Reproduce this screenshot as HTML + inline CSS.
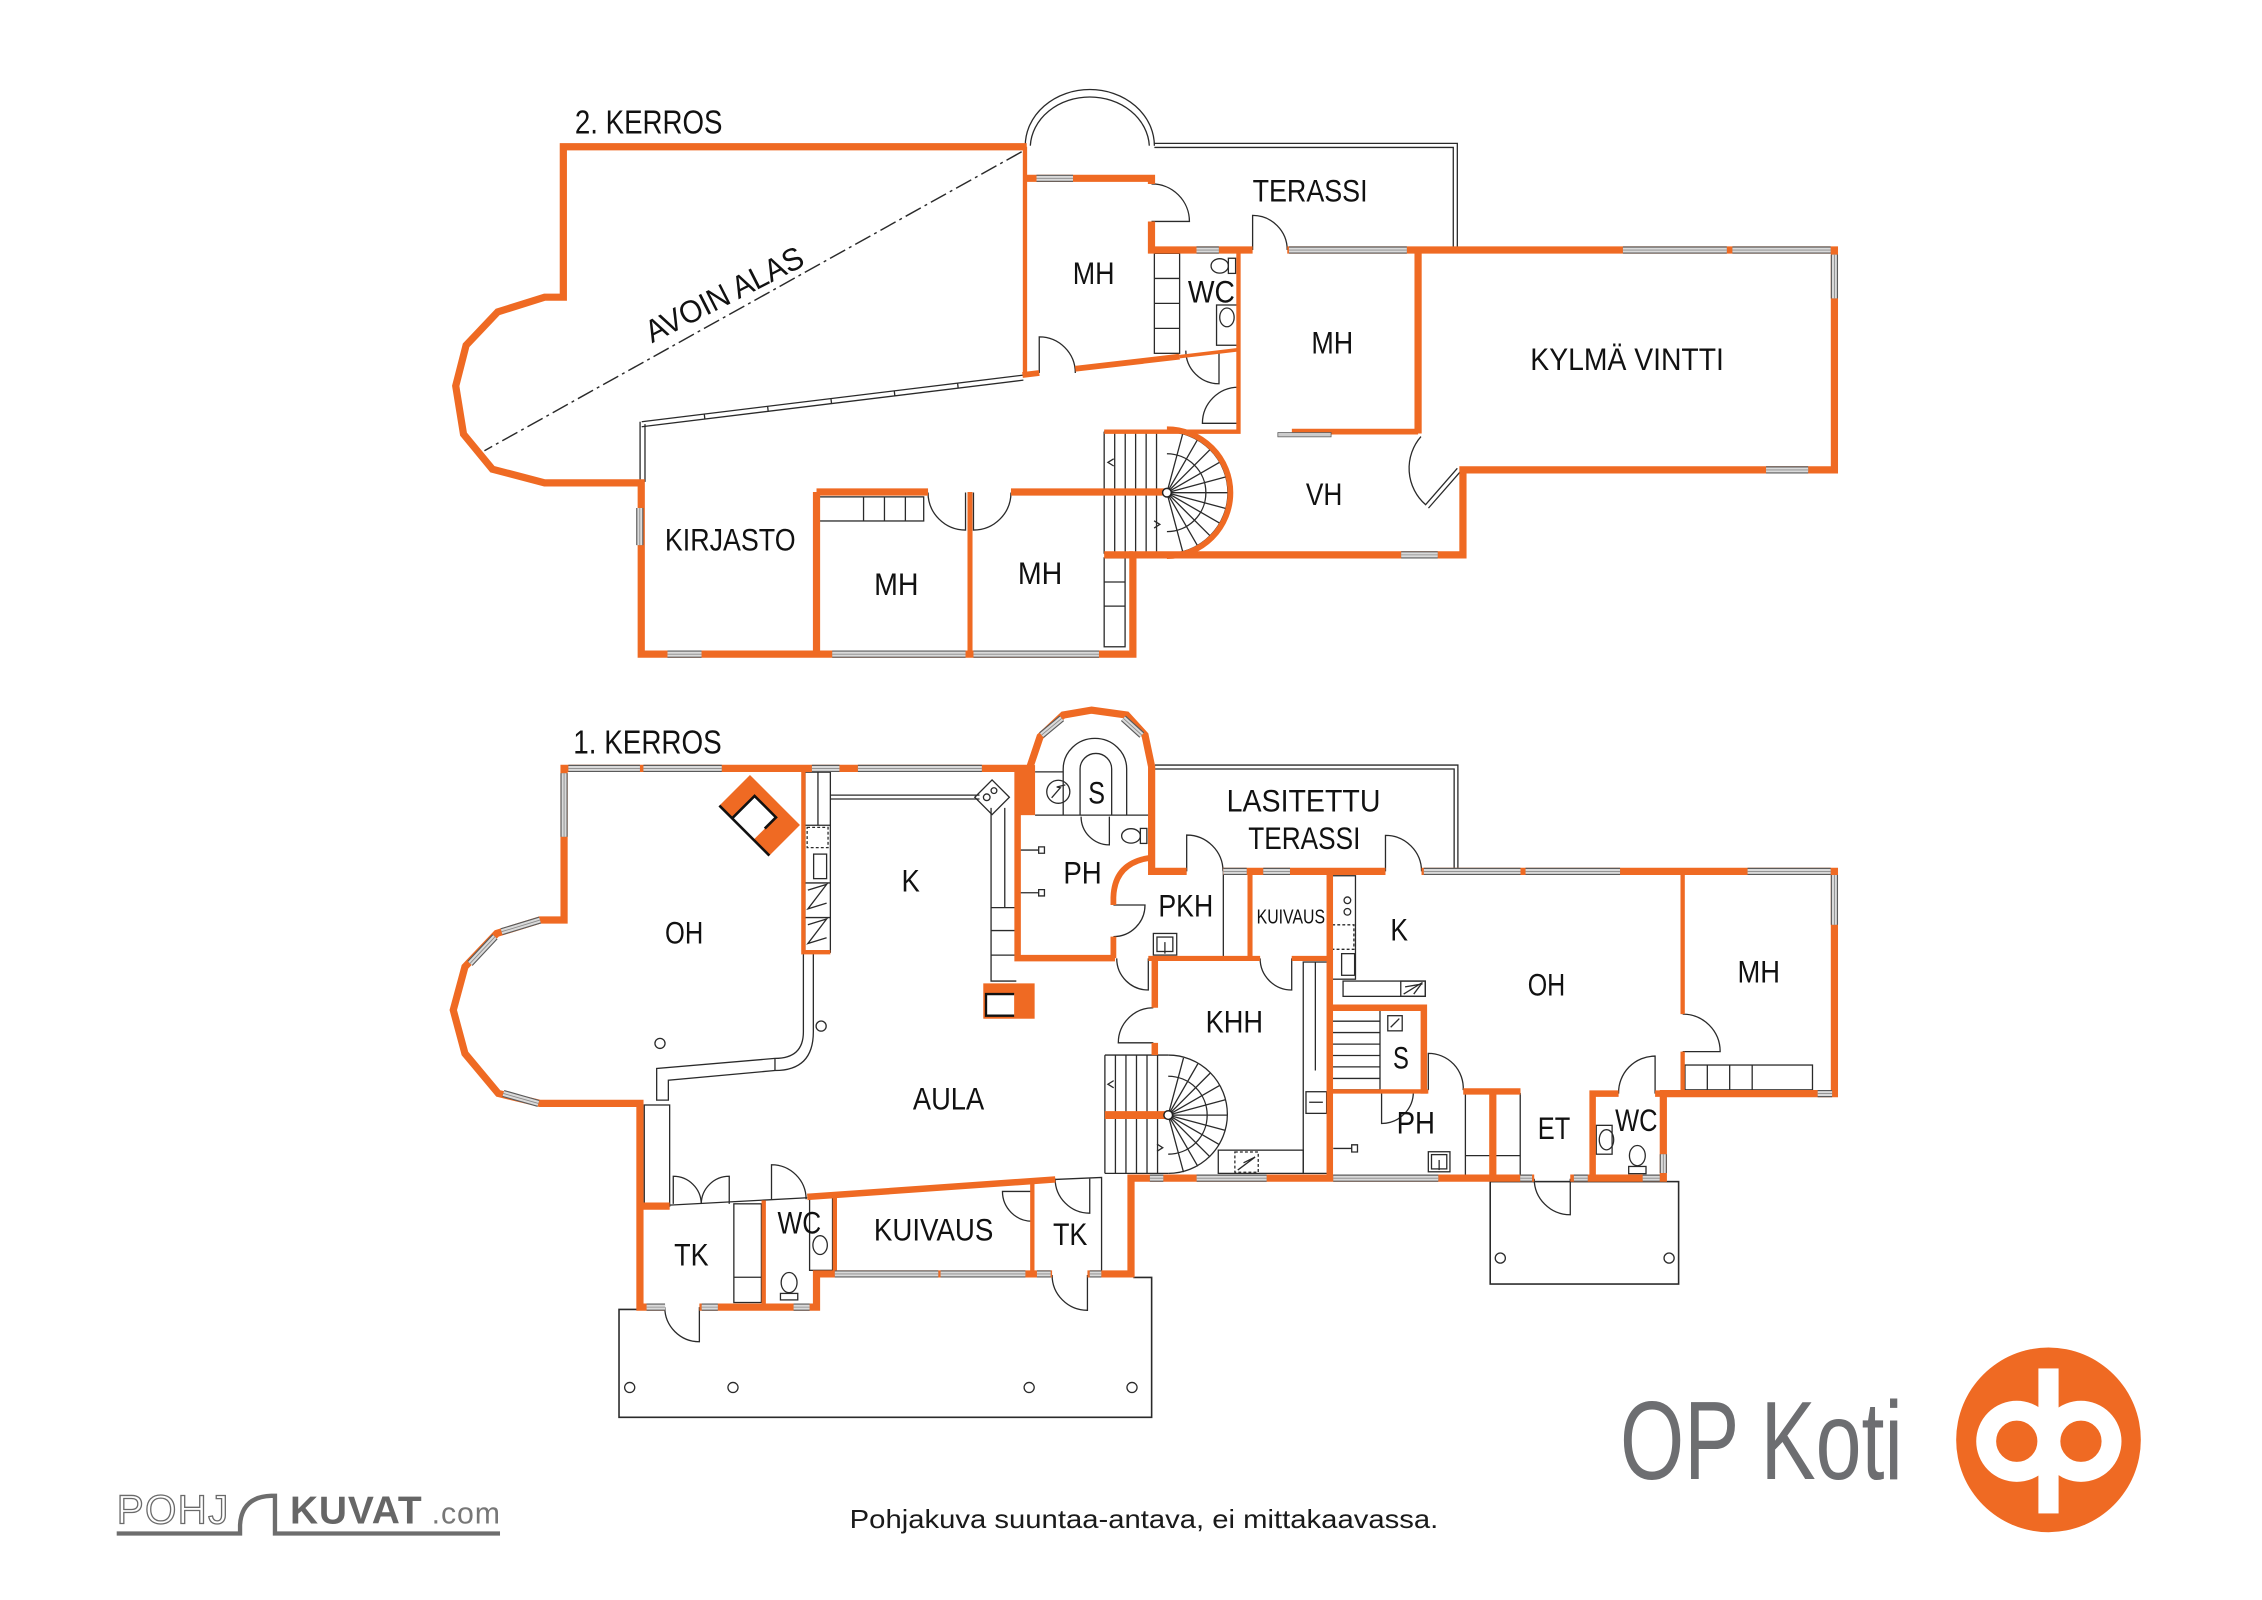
<!DOCTYPE html>
<html><head><meta charset="utf-8">
<style>html,body{margin:0;padding:0;background:#fff}svg{display:block}</style>
</head><body>
<svg xmlns="http://www.w3.org/2000/svg" xmlns:xlink="http://www.w3.org/1999/xlink" width="2262" height="1600" viewBox="0 0 1568 1109" preserveAspectRatio="none" font-family="'Liberation Sans', sans-serif">
<defs>
<path id="wins" fill="none" d="
M718.5,123.6 L743.8,123.6
M829.4,173.3 L844.9,173.3
M893.5,173.3 L975.2,173.3
M1125,173.3 L1197,173.3 M1200.9,173.3 L1269,173.3
M1271.6,176.5 L1271.6,206.8
M1224.2,325.7 L1253.4,325.7
M971.3,384.6 L996.6,384.6
M443.5,352.1 L443.5,377.8
M462.7,453.4 L486.3,453.4 M576.9,453.4 L669.3,453.4 M674.8,453.4 L761.8,453.4
M394,532.6 L443.6,532.6 M446,532.6 L500.3,532.6 M562.8,532.6 L581.9,532.6 M594.7,532.6 L680.6,532.6
M391,536 L391,580
M374.3,637.7 L347.7,645.8
M343.1,649.3 L325.8,667.8
M348.9,757.9 L373.2,764.8
M448.2,906 L461,906 M486.4,906 L497.6,906 M550.1,906 L561.2,906
M578.7,883 L650.4,883 M652,883 L710.8,883
M718.8,883 L728.3,883 M755.4,883 L763.4,883
M722,509.5 L736,497.9
M778.7,497.9 L791.5,509.5
M848,604 L864.2,604 M875.7,604 L894.2,604 M987,604 L1054,604 M1057.5,604 L1123,604 M1211.4,604 L1269,604
M1271.6,606.5 L1271.6,641
M1260,758 L1270,758
M797.1,816.6 L806.4,816.6 M829.5,816.6 L878,816.6 M924.2,816.6 L997,816.6 M1053.8,816.6 L1062,816.6 M1091,816.6 L1100.6,816.6 M1138.7,816.6 L1150.5,816.6
M1153,800 L1153,813"/>
</defs>
<rect x="0" y="0" width="1568" height="1109" fill="#fff"/>

<!-- ============ THIN BLACK LINEWORK ============ -->
<g fill="none" stroke="#2a2a2a" stroke-width="0.9">
<!-- upper dome & terrace -->
<path d="M710.7,101 A44.75,39 0 0 1 800.2,101"/>
<path d="M714.2,101 A41.3,35.5 0 0 1 796.7,101"/>
<path d="M800.2,99.4 L1010.2,99.4 L1010.2,173"/>
<path d="M800.2,102.2 L1007.4,102.2 L1007.4,173"/>
<!-- slanted thin window wall -->
<path d="M444.8,292.3 L709.4,260 M444.8,295.8 L709.4,263.5"/>
<path d="M443.7,292.3 L443.7,334 M447.1,294 L447.1,334"/>
<path d="M488.2,287 L488.6,290.5 M532.1,281.6 L532.5,285.1 M576,276.2 L576.4,279.7 M619.9,270.9 L620.3,274.4 M663.8,265.6 L664.2,269.1"/>
<!-- dash-dot -->
<path d="M708.2,105.2 L335.8,312.4" stroke-dasharray="12,3,2,3" stroke-width="1"/>
<!-- upper MH closet -->
<rect x="800.2" y="175.6" width="17.5" height="69.3"/>
<path d="M800.2,193 L817.7,193 M800.2,210.3 L817.7,210.3 M800.2,227.6 L817.7,227.6"/>
<!-- WC upper fixtures -->
<ellipse cx="845.5" cy="184.3" rx="6" ry="5"/>
<rect x="851.5" y="179" width="5" height="10.5"/>
<rect x="843.3" y="211.4" width="14.5" height="27.9"/>
<ellipse cx="850.5" cy="220" rx="5" ry="6.5"/>
<!-- upper stairs -->
<path d="M765.4,299.2 L808.9,299.2 M765.4,383.8 L808.9,383.8 M765.4,299.2 L765.4,383.8"/>
<path d="M772.7,299.2 L772.7,383.8 M780,299.2 L780,383.8 M787.2,299.2 L787.2,383.8 M794.5,299.2 L794.5,383.8 M801.7,299.2 L801.7,383.8"/>
<path d="M808.9,299.2 A42.3,42.3 0 0 1 808.9,383.8"/>
<path d="M808.9,314.5 A27,27 0 0 1 808.9,368.5"/>
<path d="M808.9,341.5 L819.85,300.64 M808.9,341.5 L830.05,304.87 M808.9,341.5 L838.81,311.59 M808.9,341.5 L845.53,320.35 M808.9,341.5 L849.76,330.55 M808.9,341.5 L851.2,341.5 M808.9,341.5 L849.76,352.45 M808.9,341.5 L845.53,362.65 M808.9,341.5 L838.81,371.41 M808.9,341.5 L830.05,378.13 M808.9,341.5 L819.85,382.36"/>
<path d="M772,318 L768,320.5 L772,323 M800,361 L804,363.5 L800,366"/>
<!-- kirjasto closet -->
<rect x="567.8" y="344.4" width="72.5" height="16.7"/>
<path d="M598.6,344.4 L598.6,361.1 M613.1,344.4 L613.1,361.1 M627.6,344.4 L627.6,361.1"/>
<!-- right MH closet -->
<rect x="765.4" y="386.7" width="14.5" height="61.6"/>
<path d="M765.4,403.4 L779.9,403.4 M765.4,420.1 L779.9,420.1"/>
<!-- upper doors -->
<path d="M798.2,153.5 L824.5,153.5 A26,26 0 0 0 798.2,127.5"/>
<path d="M868.3,173.3 L868.3,149.3 A24,24 0 0 1 892.3,173.3"/>
<path d="M720.4,258.5 L720.4,233.5 A25,25 0 0 1 745.4,258.5"/>
<path d="M845,243 L845,266 A23,23 0 0 1 822,243"/>
<path d="M858.5,293.4 L833.5,293.4 A25,25 0 0 1 858.5,268.4"/>
<path d="M669.3,341.4 L669.3,367.4 A26,26 0 0 1 643.3,341.4"/>
<path d="M674.8,341.4 L674.8,367.4 A26,26 0 0 0 700.8,341.4"/>
<path d="M1010.2,324.6 L988.2,349.8 A33.5,33.5 0 0 1 985,302.6"/>
<path d="M1012.2,327 L990.2,352.2"/>

<!-- lower terraces -->
<path d="M800.6,530.3 L1010.6,530.3 L1010.6,604"/>
<path d="M800.6,533 L1008,533 L1008,604"/>
<path d="M444,907.6 L429.1,907.6 L429.1,982.4 L798.3,982.4 L798.3,885.4 L785.6,885.4" stroke-width="1.1"/>
<rect x="1033" y="819" width="130.6" height="71" stroke-width="1.1"/>
<circle cx="436.5" cy="961.7" r="3.5"/><circle cx="508.1" cy="961.7" r="3.5"/><circle cx="713.4" cy="961.7" r="3.5"/><circle cx="784.7" cy="961.7" r="3.5"/>
<circle cx="1040" cy="872" r="3.5"/><circle cx="1157" cy="872" r="3.5"/>
<!-- OH/AULA divider -->
<path d="M556.9,660 L556.9,715.2 Q556.9,733.6 537.2,733.6 L455.2,740.6 L455.2,762.5 L463.3,762.5 L463.3,748.7 L537.2,742 Q563.8,742 563.8,715.2 L563.8,660"/>
<path d="M537.2,733.6 L537.2,742"/>
<circle cx="457.5" cy="723.2" r="3.5"/><circle cx="569.2" cy="711.2" r="3.5"/>
<!-- left TK stuff -->
<rect x="446.6" y="765.9" width="17.6" height="70.1"/>
<path d="M464.2,835.3 L559.6,830.2"/>
<path d="M731.5,817.5 L763.6,816.1 L763.6,883"/>
<rect x="508.7" y="834.4" width="19.1" height="68.4"/>
<path d="M508.7,885.3 L527.8,885.3"/>
<rect x="561.2" y="829.6" width="15.9" height="50.9"/>
<ellipse cx="568.5" cy="863" rx="5" ry="6.5"/>
<ellipse cx="547" cy="889" rx="5.5" ry="7"/>
<rect x="541" y="896.5" width="12" height="4.5"/>
<!-- sauna -->
<path d="M717.5,565 L797.2,565 M717.5,535 L737,535"/>
<path d="M737,565 L737,533 A22,21.2 0 0 1 781,533 L781,565"/>
<path d="M748.7,565 L748.7,533 A10.95,10.8 0 0 1 770.6,533 L770.6,565"/>
<circle cx="733.6" cy="548.8" r="8"/>
<path d="M729,553 L735,546 L732.5,545.5 L738.5,544"/>
<ellipse cx="784" cy="579.4" rx="6.5" ry="5"/>
<rect x="790.5" y="574.2" width="4.5" height="10.4"/>
<path d="M707,589.2 L720,589.2 M720,587 L724,587 L724,591.4 L720,591.4 Z M707,618.8 L720,618.8 M720,616.6 L724,616.6 L724,621 L720,621 Z"/>
<!-- kitchen left strip -->
<rect x="558" y="535.2" width="17.6" height="124.8"/>
<path d="M567,535.2 L567,572 M558,572 L575.6,572 M558,612 L575.6,612 M558,636 L575.6,636"/>
<rect x="559.5" y="573.5" width="14.5" height="14" stroke-dasharray="2,1.5"/>
<rect x="564" y="592" width="9" height="17"/>
<path d="M560,617 L573,613 L560,630 L573,626 M560,641 L573,637 L560,654 L573,650"/>
<!-- K top double line + stove + right strip -->
<path d="M575.6,551.1 L679,551.1 M575.6,553.8 L679,553.8"/>
<polygon points="687.7,540.6 699.7,552.6 687.7,564.6 675.7,552.6"/>
<circle cx="684" cy="552.6" r="2.3"/><circle cx="689" cy="548" r="2"/>
<path d="M687,560 L687,680 L704.5,680 M696.5,560 L696.5,629 M687,629.1 L704.5,629.1 M687,645 L704.5,645 M687,662 L704.5,662"/>
<!-- PKH / kuivaus -->
<path d="M848,604 L848,664.3"/>
<rect x="799.5" y="647" width="16.2" height="15"/>
<rect x="802" y="649.5" width="11" height="10"/>
<path d="M807.5,661 L807.5,653"/>
<!-- K right counters -->
<rect x="922.3" y="607" width="17.3" height="71.7"/>
<circle cx="934" cy="624" r="2.3"/><circle cx="934" cy="632" r="2.3"/>
<rect x="923.5" y="641" width="15" height="17" stroke-dasharray="2,1.5"/>
<rect x="930" y="661" width="9" height="15"/>
<rect x="931" y="680" width="57" height="10.6"/>
<rect x="971" y="680" width="17" height="10.6"/>
<path d="M973,689 L986,681 L980,689 M974,684 L986,682"/>
<!-- stairs to basement + S -->
<rect x="922.3" y="699.9" width="34.3" height="55.5"/>
<path d="M922.3,707.8 L956.6,707.8 M922.3,715.7 L956.6,715.7 M922.3,723.7 L956.6,723.7 M922.3,731.6 L956.6,731.6 M922.3,739.5 L956.6,739.5 M922.3,747.5 L956.6,747.5"/>
<rect x="962" y="704" width="10" height="10.5"/>
<path d="M964,712 L970,706"/>
<!-- KHH -->
<rect x="903.4" y="666.8" width="17.4" height="146.5"/>
<path d="M911.8,666.8 L911.8,742"/>
<rect x="905.3" y="756.7" width="14.3" height="15"/>
<path d="M907.5,764 L917,764"/>
<rect x="844.5" y="797.2" width="58.9" height="16.1"/>
<rect x="856" y="798.5" width="16.2" height="14" stroke-dasharray="2,1.5"/>
<path d="M858,811 L870,802 L862,806"/>
<!-- lower spiral stairs -->
<path d="M765.9,731.3 L809.8,731.3 M765.9,813.3 L809.8,813.3 M765.9,731.3 L765.9,813.3"/>
<path d="M773.2,731.3 L773.2,813.3 M780.5,731.3 L780.5,813.3 M787.8,731.3 L787.8,813.3 M795.1,731.3 L795.1,813.3 M802.4,731.3 L802.4,813.3"/>
<path d="M809.8,731.3 A41,41 0 0 1 809.8,813.3"/>
<path d="M809.8,746 A27,27 0 0 1 809.8,800"/>
<path d="M809.8,772.9 L820.4,733.3 M809.8,772.9 L830.3,737.4 M809.8,772.9 L838.8,743.9 M809.8,772.9 L845.3,752.4 M809.8,772.9 L849.4,762.3 M809.8,772.9 L850.8,772.9 M809.8,772.9 L849.4,783.5 M809.8,772.9 L845.3,793.4 M809.8,772.9 L838.8,801.9 M809.8,772.9 L830.3,808.4 M809.8,772.9 L820.4,812.5"/>
<path d="M772,749 L768,751.5 L772,754 M802,793 L806,795.5 L802,798"/>
<!-- PH lower / ET / WC -->
<rect x="1015.8" y="758" width="17.2" height="58.6"/>
<path d="M1015.8,801 L1033,801"/>
<rect x="990.1" y="798.3" width="15" height="13.9"/>
<rect x="992.3" y="800.3" width="10.6" height="9.9"/>
<path d="M997.6,811 L997.6,804"/>
<path d="M924.2,796 L937,796 M937,793.5 L941,793.5 L941,798.5 L937,798.5 Z"/>
<rect x="1036.5" y="758" width="17.3" height="58.6"/>
<path d="M1036.5,801 L1053.8,801"/>
<ellipse cx="1113.6" cy="790" rx="5" ry="7"/>
<rect x="1106.5" y="780" width="11" height="20"/>
<ellipse cx="1135" cy="801" rx="5.5" ry="7"/>
<rect x="1129" y="808.5" width="12" height="5"/>
<!-- lower MH wardrobe -->
<rect x="1168" y="738.2" width="88.4" height="17.2"/>
<path d="M1183.5,738.2 L1183.5,755.4 M1199,738.2 L1199,755.4 M1214.6,738.2 L1214.6,755.4"/>
<!-- lower doors -->
<path d="M466.7,834.4 L466.7,815.3 A19.4,19.4 0 0 1 486.1,834.4"/>
<path d="M505.5,834.4 L505.5,815.3 A19.4,19.4 0 0 0 486.1,834.4"/>
<path d="M534.8,831.2 L534.8,807.3 A24,24 0 0 1 558.8,831.2"/>
<path d="M715.6,825.8 L694.9,825.8 A20.7,20.7 0 0 0 715.6,846.5"/>
<path d="M755.4,816.9 L755.4,840.9 A24,24 0 0 1 731.4,816.9"/>
<path d="M753.8,883.7 L753.8,908.2 A24.5,24.5 0 0 1 729.3,883.7"/>
<path d="M484.8,906 L484.8,930 A24,24 0 0 1 460.8,906"/>
<path d="M769,566 L769,585.6 A19.6,19.6 0 0 1 749.4,566"/>
<path d="M771.8,627.3 L793.7,627.3 A21.9,21.9 0 0 1 771.8,649.2"/>
<path d="M796,664.3 L796,686.2 A21.9,21.9 0 0 1 774.1,664.3"/>
<path d="M799.5,722.8 L775.2,722.8 A24.3,24.3 0 0 1 799.5,698.5"/>
<path d="M822.6,604 L822.6,578.8 A25.2,25.2 0 0 1 847.8,604"/>
<path d="M960.4,604 L960.4,579 A25,25 0 0 1 985.4,604"/>
<path d="M895.4,664.3 L895.4,686.2 A21.9,21.9 0 0 1 873.5,664.3"/>
<path d="M1166.4,728.9 L1192.4,728.9 A26,26 0 0 0 1166.4,702.9"/>
<path d="M1147.3,758 L1147.3,732 A25.3,25.3 0 0 0 1122,758"/>
<path d="M990.1,755.6 L990.1,730.1 A24.2,24.2 0 0 1 1014.3,755.6"/>
<path d="M1088.5,817 L1088.5,842 A25,25 0 0 1 1063.5,817"/>
<path d="M957.7,755.6 L957.7,778.7 A22,22 0 0 0 979.7,755.6"/>
</g>

<!-- ============ ORANGE WALLS ============ -->
<g fill="none" stroke="#ef6a23" stroke-linejoin="miter">
<!-- upper thick -->
<path stroke-width="5" d="M711.7,101.7 L390.5,101.7 L390.5,206 L377.5,206 L345,216.2 L323.1,239.3 L315.9,267.5 L321.3,300.9 L341.3,325.2 L377.5,334.7 L444.5,334.7 L444.5,453.4 L785.3,453.4 L785.3,384.6 L1014.1,384.6 L1014.1,325.7 L1271.6,325.7 L1271.6,173.3 L892.3,173.3"/>
<path stroke-width="5" d="M765.4,384.6 L785.3,384.6"/>
<path stroke-width="5" d="M710.5,123.6 L798.2,123.6 L798.2,127.5 M798.2,153.5 L798.2,173.3 L868.3,173.3"/>
<path stroke-width="5" d="M983,173.3 L983,300.5"/>
<path stroke-width="4" d="M895.5,299.2 L983,299.2"/>
<path stroke-width="5" d="M566,341 L643.3,341 M700.8,341 L808.9,341 M566,341 L566,453.4"/>
<path stroke-width="4" d="M745.4,255.6 L817.7,247.2 M708.8,259.9 L720.4,258.5"/>
<path stroke-width="4" d="M808.9,297.5 A44,44 0 0 1 808.9,385.5"/>
<path stroke-width="3" d="M710.5,101.7 L710.5,259.9"/>
<path stroke-width="3" d="M858.5,173.3 L858.5,299.2 L765.4,299.2"/>
<path stroke-width="2.5" d="M817.7,247.2 L858.5,242.4"/>
<path stroke-width="3.5" d="M672.4,341 L672.4,453.4"/>
<!-- lower thick outer -->
<path stroke-width="5" d="M712.4,532.6 L391,532.6 L391,637.7 L374.3,637.7 L344.3,647 L322.3,670.1 L314.2,700.1 L322.3,730.2 L345.4,757.9 L374.3,764.8 L443.6,764.8 L443.6,906 L460.8,906 M484.8,906 L566,906 L566,883 L578.7,883 L729.3,883 M753.8,883 L784,883 L784,816.6 L1063.5,816.6 M1088.5,816.6 L1153,816.6 L1153,758 L1271.6,758 L1271.6,604 L985.4,604 M960.4,604 L847.8,604 M822.6,604 L798.3,604 L798.3,531.4 L793.7,509.5 L781,495.6 L756.7,492.2 L737,495.6 L721,510.6 L714,531.4"/>
<!-- lower interior -->
<path stroke-width="5" d="M443.6,836 L464.2,836"/>
<path stroke-width="4.5" d="M559.6,829.6 L731.5,817.5"/>
<path stroke-width="4.5" d="M705.4,532.6 L705.4,664.1 L772.9,664.1"/>
<path stroke-width="4" d="M797.5,594.5 Q772.5,598 771.8,622 L771.8,627.3 M771.8,649.2 L771.8,664.1"/>
<path stroke-width="4.5" d="M800.5,664.3 L800.5,698.5 M800.5,722.8 L800.5,731.3"/>
<path stroke-width="5.5" d="M765.9,772.9 L809.8,772.9"/>
<path stroke-width="4.5" d="M921.8,604 L921.8,816.6"/>
<path stroke-width="3.5" d="M866.5,604 L866.5,664.3"/>
<path stroke-width="3.5" d="M796,664.3 L873.5,664.3 M895.4,664.3 L921.8,664.3"/>
<path stroke-width="4.5" d="M921.8,698.5 L987,698.5 L987,758"/>
<path stroke-width="3" d="M921.8,756.5 L990.1,756.5"/>
<path stroke-width="4.5" d="M1014.3,756.5 L1054,756.5"/>
<path stroke-width="5" d="M1034.8,756.5 L1034.8,816.6"/>
<path stroke-width="4.5" d="M1104,816.6 L1104,758 L1122,758 M1147.3,758 L1153,758"/>
<path stroke-width="3" d="M1166.4,604 L1166.4,702.9 M1166.4,728.9 L1166.4,758"/>
<path stroke-width="3" d="M529.4,832 L529.4,906 M578.7,829 L578.7,883 M715.6,820 L715.6,883"/>
<path stroke-width="3" d="M556.9,532.6 L556.9,660 L575.6,660"/>
<path stroke-width="4" d="M763.6,883 L784,883"/>
</g>
<rect x="707" y="530.3" width="10.5" height="34.7" fill="#ef6a23"/>

<!-- fireplaces -->
<g transform="translate(526.6,565.1) rotate(45)">
<rect x="-24.5" y="-15" width="49" height="30" fill="#ef6a23"/>
<rect x="-12" y="-7" width="21" height="22" fill="#fff"/>
<path d="M-24.5,15 L24.5,15 M-12,15 L-12,-7 L9,-7 L9,4" fill="none" stroke="#111" stroke-width="1.8"/>
</g>
<rect x="681.6" y="681.6" width="35.6" height="24.5" fill="#ef6a23"/>
<rect x="683.5" y="689" width="19.5" height="15" fill="#fff"/>
<path d="M703,689 L683.5,689 L683.5,704 L703,704" fill="none" stroke="#111" stroke-width="1.6"/>

<!-- sliding door & stair centers -->
<rect x="885.8" y="299.8" width="36.9" height="3" fill="#ccc" stroke="#555" stroke-width="0.5"/>
<circle cx="808.9" cy="341.5" r="3" fill="#fff" stroke="#222" stroke-width="1"/>
<circle cx="809.8" cy="772.9" r="3" fill="#fff" stroke="#222" stroke-width="1"/>

<!-- windows -->
<use xlink:href="#wins" href="#wins" stroke="#5a5a5a" stroke-width="5"/>
<use xlink:href="#wins" href="#wins" stroke="#dadada" stroke-width="3.4"/>
<use xlink:href="#wins" href="#wins" stroke="#8a8a8a" stroke-width="0.6"/>

<!-- ============ LABELS ============ -->
<g fill="#111" font-size="22">
<text x="398.5" y="92.7" font-size="23" textLength="102.3" lengthAdjust="spacingAndGlyphs">2. KERROS</text>
<text transform="translate(452,238) rotate(-27)" textLength="120" lengthAdjust="spacingAndGlyphs">AVOIN ALAS</text>
<text x="743.6" y="197" textLength="29" lengthAdjust="spacingAndGlyphs">MH</text>
<text x="823.4" y="209.8" textLength="32.6" lengthAdjust="spacingAndGlyphs">WC</text>
<text x="868.3" y="139.8" textLength="79.7" lengthAdjust="spacingAndGlyphs">TERASSI</text>
<text x="909" y="244.9" textLength="29" lengthAdjust="spacingAndGlyphs">MH</text>
<text x="1060.8" y="256.4" textLength="134.2" lengthAdjust="spacingAndGlyphs">KYLMÄ VINTTI</text>
<text x="905.2" y="350" textLength="25.3" lengthAdjust="spacingAndGlyphs">VH</text>
<text x="460.9" y="381.6" textLength="90.6" lengthAdjust="spacingAndGlyphs">KIRJASTO</text>
<text x="605.9" y="412.4" textLength="30.8" lengthAdjust="spacingAndGlyphs">MH</text>
<text x="705.6" y="404.7" textLength="30.8" lengthAdjust="spacingAndGlyphs">MH</text>

<text x="397.4" y="522.2" font-size="23" textLength="102.9" lengthAdjust="spacingAndGlyphs">1. KERROS</text>
<text x="461" y="653.9" textLength="26.5" lengthAdjust="spacingAndGlyphs">OH</text>
<text x="624.9" y="617.9" textLength="12.7" lengthAdjust="spacingAndGlyphs">K</text>
<text x="737.1" y="612.3" textLength="26.6" lengthAdjust="spacingAndGlyphs">PH</text>
<text x="754.4" y="556.9" textLength="11.6" lengthAdjust="spacingAndGlyphs">S</text>
<text x="803" y="635.4" textLength="38" lengthAdjust="spacingAndGlyphs">PKH</text>
<text x="871.1" y="640" font-size="14" textLength="47.4" lengthAdjust="spacingAndGlyphs">KUIVAUS</text>
<text x="850.3" y="562.6" textLength="106.6" lengthAdjust="spacingAndGlyphs">LASITETTU</text>
<text x="865.3" y="588.5" textLength="77.7" lengthAdjust="spacingAndGlyphs">TERASSI</text>
<text x="963.8" y="651.8" textLength="12.2" lengthAdjust="spacingAndGlyphs">K</text>
<text x="1059" y="690" textLength="26" lengthAdjust="spacingAndGlyphs">OH</text>
<text x="1204.4" y="681" textLength="29.5" lengthAdjust="spacingAndGlyphs">MH</text>
<text x="835.7" y="715.5" textLength="39.8" lengthAdjust="spacingAndGlyphs">KHH</text>
<text x="965.6" y="740.5" textLength="11" lengthAdjust="spacingAndGlyphs">S</text>
<text x="968.1" y="785.6" textLength="26.6" lengthAdjust="spacingAndGlyphs">PH</text>
<text x="1066" y="789.5" textLength="22.5" lengthAdjust="spacingAndGlyphs">ET</text>
<text x="1119.6" y="784" textLength="29.4" lengthAdjust="spacingAndGlyphs">WC</text>
<text x="632.8" y="769.1" textLength="49.4" lengthAdjust="spacingAndGlyphs">AULA</text>
<text x="467.3" y="877.3" textLength="23.9" lengthAdjust="spacingAndGlyphs">TK</text>
<text x="539" y="855" textLength="30.2" lengthAdjust="spacingAndGlyphs">WC</text>
<text x="605.8" y="859.8" textLength="82.8" lengthAdjust="spacingAndGlyphs">KUIVAUS</text>
<text x="729.9" y="863" textLength="23.9" lengthAdjust="spacingAndGlyphs">TK</text>
</g>

<!-- ============ FOOTER ============ -->
<text x="589" y="1059" font-size="18" fill="#1a1a1a" textLength="408" lengthAdjust="spacingAndGlyphs">Pohjakuva suuntaa-antava, ei mittakaavassa.</text>

<text x="80.9" y="1055.9" font-size="28" fill="#fff" stroke="#6a6a6a" stroke-width="0.9" textLength="77.4" lengthAdjust="spacing">POHJ</text>
<path d="M80.9,1062.9 L166.4,1062.9 L166.4,1057 Q167.5,1037.5 188,1036.8 L190.6,1036.8 L190.6,1062.9 L346.6,1062.9" fill="none" stroke="#6d6d6d" stroke-width="3"/>
<text x="201" y="1055.9" font-size="27" font-weight="bold" fill="#666" textLength="91.3" lengthAdjust="spacing">KUVAT</text>
<text x="299.2" y="1055.9" font-size="21" fill="#777" textLength="47.4" lengthAdjust="spacing">.com</text>

<text x="1123" y="1025" font-size="77" fill="#6d6e71" textLength="196" lengthAdjust="spacingAndGlyphs">OP Koti</text>
<circle cx="1420" cy="998" r="64" fill="#ef6a23"/>
<circle cx="1398" cy="999" r="21.2" fill="none" stroke="#fff" stroke-width="13.8"/>
<circle cx="1442.5" cy="999" r="21.2" fill="none" stroke="#fff" stroke-width="13.8"/>
<rect x="1413" y="948.5" width="14" height="100.5" fill="#fff"/>
</svg>
</body></html>
